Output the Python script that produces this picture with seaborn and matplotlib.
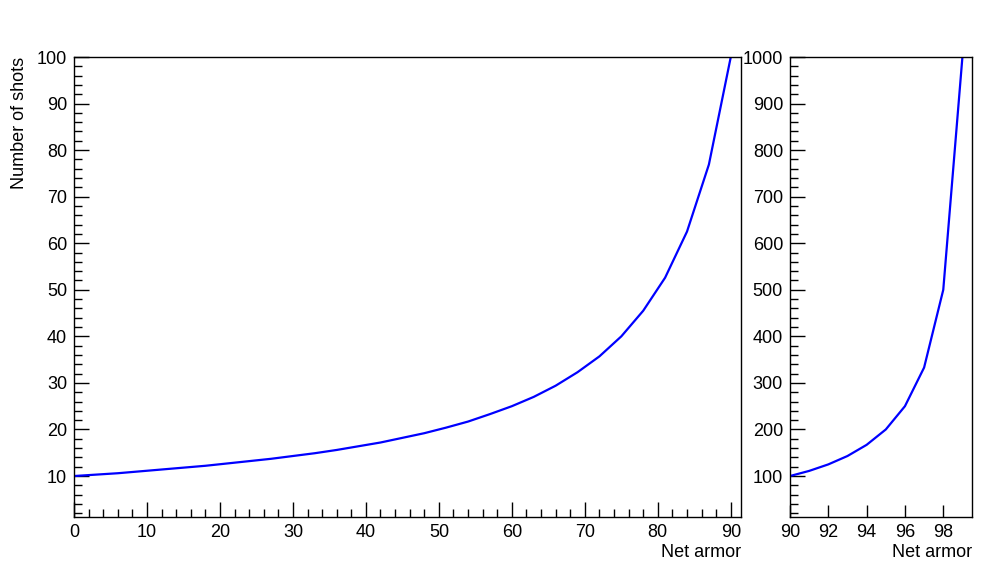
import matplotlib

matplotlib.use("Agg")
import matplotlib.pyplot as plt
import numpy as np
import pandas as pd
import seaborn as sns
from matplotlib.ticker import MultipleLocator

# net armor vs shots
armor_low = [0, 3, 6, 9, 12, 15, 18, 21, 24, 27, 30, 33, 36, 39, 42, 45,
             48, 51, 54, 57, 60, 63, 66, 69, 72, 75, 78, 81, 84, 87, 90]
shots_low = [10.0, 10.3, 10.6, 11.0, 11.4, 11.8, 12.2, 12.7, 13.2, 13.7, 14.3,
             14.9, 15.6, 16.4, 17.2, 18.2, 19.2, 20.4, 21.7, 23.3, 25.0, 27.0,
             29.4, 32.3, 35.7, 40.0, 45.5, 52.6, 62.5, 76.9, 100.0]

armor_high = [90, 91, 92, 93, 94, 95, 96, 97, 98, 99]
shots_high = [100, 111, 125, 143, 167, 200, 250, 333, 500, 1000]

sns.set_theme(style="ticks")
plt.rcParams["font.family"] = ["Liberation Sans", "DejaVu Sans"]
plt.rcParams.update({
    "axes.edgecolor": "black",
    "axes.labelcolor": "black",
    "text.color": "black",
    "axes.linewidth": 1.0,
    "xtick.direction": "in",
    "ytick.direction": "in",
    "xtick.color": "black",
    "ytick.color": "black",
    "xtick.labelcolor": "black",
    "ytick.labelcolor": "black",
    "xtick.labelsize": 13,
    "ytick.labelsize": 13,
    "axes.labelsize": 13,
})

fig = plt.figure(figsize=(9.98, 5.76), dpi=100)
W, H = 998, 576
ax1 = fig.add_axes([74 / W, (H - 517) / H, (741 - 74) / W, (517 - 57) / H])
ax2 = fig.add_axes([790 / W, (H - 517) / H, (972 - 790) / W, (517 - 57) / H])

low = pd.DataFrame({"armor": armor_low, "shots": shots_low})
high = pd.DataFrame({"armor": armor_high, "shots": shots_high})

sns.lineplot(data=low, x="armor", y="shots", color="#0000FF", linewidth=1.6,
             estimator=None, ax=ax1)
sns.lineplot(data=high, x="armor", y="shots", color="#0000FF", linewidth=1.6,
             estimator=None, ax=ax2)

ax1.set_xlim(0, 91.4)
ax1.set_ylim(1.2, 100)
ax1.xaxis.set_major_locator(MultipleLocator(10))
ax1.xaxis.set_minor_locator(MultipleLocator(2))
ax1.yaxis.set_major_locator(MultipleLocator(10))
ax1.yaxis.set_minor_locator(MultipleLocator(2))
ax1.set_yticks(np.arange(10, 101, 10))

ax2.set_xlim(90, 99.5)
ax2.set_ylim(12, 1000)
ax2.set_xticks(np.arange(90, 99, 2))
ax2.yaxis.set_major_locator(MultipleLocator(100))
ax2.yaxis.set_minor_locator(MultipleLocator(20))
ax2.set_yticks(np.arange(100, 1001, 100))

for ax in (ax1, ax2):
    for side in ("top", "right", "left", "bottom"):
        ax.spines[side].set_visible(True)
    ax.tick_params(which="major", length=11, width=1, pad=5)
    ax.tick_params(which="minor", length=6, width=1)
    ax.tick_params(axis="both", which="both", top=False, right=False)
    ax.set_xlabel("Net armor", loc="right", labelpad=2)
    ax.set_ylabel("")
    ax.grid(False)

ax2.tick_params(axis="x", which="major", length=9)
ax1.set_ylabel("Number of shots", loc="top", labelpad=6)

fig.savefig("out.png", dpi=100, facecolor="white")
